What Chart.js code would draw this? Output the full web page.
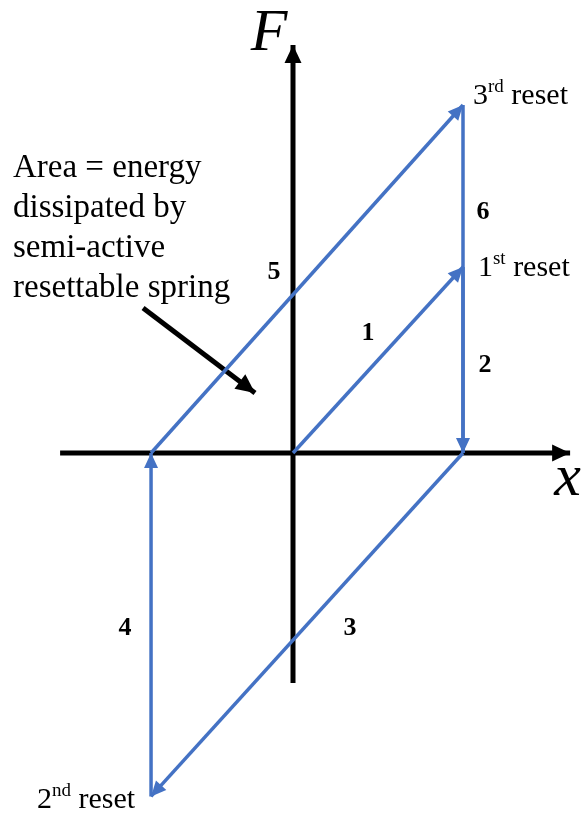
<!DOCTYPE html>
<html>
<head>
<meta charset="utf-8">
<script src="https://cdn.jsdelivr.net/npm/chart.js@4/dist/chart.umd.min.js"></script>
<style>
html,body{margin:0;padding:0;background:#fff;}
canvas{display:block;}
</style>
</head>
<body>
<canvas id="c" width="586" height="816"></canvas>
<script>
// ---- data (displacement x, force F in arbitrary units) ----
const axisX = [-1.37, 1.63];          // extent of x axis (at F = 0)
const axisF = [-1.353, 2.40];         // extent of F axis (at x = 0)
const branchNames = ['1', '2', '3', '4', '5', '6'];
const branchX = [[0, 1], [1, 1], [1, -0.835], [-0.835, -0.835], [-0.835, 1], [1, 1]];
const branchF = [[0, 1.094], [1.094, 0], [0, -2.02], [-2.02, 0], [0, 2.047], [2.047, 0]];
const branchArrow = [true, true, true, true, true, false];
const branchLabelX = [0.441, 1.129, 0.335, -0.988, -0.112, 1.118];
const branchLabelF = [0.706, 0.518, -1.029, -1.029, 1.065, 1.418];
const resetNames = [['1', 'st', ' reset'], ['2', 'nd', ' reset'], ['3', 'rd', ' reset']];
const resetLabelX = [1.088, -1.506, 1.059];
const resetLabelF = [1.088, -2.041, 2.10];
const noteLines = ['Area = energy', 'dissipated by', 'semi-active', 'resettable spring'];
const noteX = -1.647;
const noteF = [1.676, 1.441, 1.206, 0.971];
const pointerX = [-0.882, -0.2235];
const pointerF = [0.853, 0.353];

const BLUE = '#4472C4';
const SERIF = '"Liberation Serif", "Times New Roman", serif';

const datasets = [];
datasets.push({ data: [{x: axisX[0], y: 0}, {x: axisX[1], y: 0}], borderColor: '#000', borderWidth: 5, arrow: {len: 18, w: 17, color: '#000'}, order: 10 });
datasets.push({ data: [{x: 0, y: axisF[0]}, {x: 0, y: axisF[1]}], borderColor: '#000', borderWidth: 5, arrow: {len: 18, w: 17, color: '#000'}, order: 10 });
datasets.push({ data: [{x: pointerX[0], y: pointerF[0]}, {x: pointerX[1], y: pointerF[1]}], borderColor: '#000', borderWidth: 5, arrow: {len: 19, w: 18, color: '#000'}, order: 10 });
branchNames.forEach((n, i) => {
  datasets.push({
    label: n,
    data: [{x: branchX[i][0], y: branchF[i][0]}, {x: branchX[i][1], y: branchF[i][1]}],
    borderColor: BLUE, borderWidth: 3.5,
    arrow: branchArrow[i] ? {len: 15, w: 14, color: BLUE} : null,
    order: 1
  });
});

const arrowPlugin = {
  id: 'arrows',
  afterDatasetsDraw(chart) {
    const ctx = chart.ctx;
    const metas = chart.getSortedVisibleDatasetMetas().slice().sort((a, b) => b.order - a.order);
    metas.forEach(meta => {
      const ds = chart.data.datasets[meta.index];
      if (!ds.arrow) return;
      const p0 = meta.data[meta.data.length - 2], p1 = meta.data[meta.data.length - 1];
      const ang = Math.atan2(p1.y - p0.y, p1.x - p0.x);
      const {len, w, color} = ds.arrow;
      ctx.save();
      ctx.translate(p1.x, p1.y);
      ctx.rotate(ang);
      ctx.fillStyle = color;
      ctx.beginPath();
      ctx.moveTo(0, 0);
      ctx.lineTo(-len, -w / 2);
      ctx.lineTo(-len, w / 2);
      ctx.closePath();
      ctx.fill();
      ctx.restore();
    });
  }
};

function drawRich(ctx, parts, x, y, size) {
  let cx = x;
  ctx.textBaseline = 'middle';
  ctx.textAlign = 'left';
  ctx.font = size + 'px ' + SERIF;
  ctx.fillText(parts[0], cx, y);
  cx += ctx.measureText(parts[0]).width;
  const sup = Math.round(size * 0.62);
  ctx.font = sup + 'px ' + SERIF;
  ctx.fillText(parts[1], cx, y - size * 0.3);
  cx += ctx.measureText(parts[1]).width;
  ctx.font = size + 'px ' + SERIF;
  ctx.fillText(parts[2], cx, y);
}

const textPlugin = {
  id: 'texts',
  afterDraw(chart) {
    const ctx = chart.ctx, xs = chart.scales.x, ys = chart.scales.y;
    ctx.save();
    ctx.fillStyle = '#000';
    ctx.font = 'italic 60px ' + SERIF;
    ctx.textAlign = 'center';
    ctx.textBaseline = 'alphabetic';
    ctx.fillText('F', xs.getPixelForValue(-0.14), ys.getPixelForValue(2.37));
    ctx.fillText('x', xs.getPixelForValue(1.615), ys.getPixelForValue(-0.247));
    ctx.font = 'bold 26px ' + SERIF;
    ctx.textBaseline = 'middle';
    branchNames.forEach((n, i) => {
      ctx.fillText(n, xs.getPixelForValue(branchLabelX[i]), ys.getPixelForValue(branchLabelF[i]));
    });
    resetNames.forEach((p, i) => {
      drawRich(ctx, p, xs.getPixelForValue(resetLabelX[i]), ys.getPixelForValue(resetLabelF[i]), 30);
    });
    ctx.font = '33px ' + SERIF;
    ctx.textAlign = 'left';
    ctx.textBaseline = 'middle';
    noteLines.forEach((t, i) => {
      ctx.fillText(t, xs.getPixelForValue(noteX), ys.getPixelForValue(noteF[i]));
    });
    ctx.restore();
  }
};

new Chart(document.getElementById('c'), {
  type: 'scatter',
  data: { datasets },
  options: {
    responsive: false,
    animation: false,
    showLine: true,
    layout: { padding: 0 },
    elements: { point: { radius: 0, hoverRadius: 0 }, line: { borderCapStyle: 'butt', tension: 0 } },
    plugins: { legend: { display: false }, tooltip: { enabled: false } },
    scales: {
      x: { type: 'linear', min: -293 / 170, max: 293 / 170, display: false },
      y: { type: 'linear', min: -363 / 170, max: 453 / 170, display: false }
    }
  },
  plugins: [arrowPlugin, textPlugin]
});
</script>
</body>
</html>
